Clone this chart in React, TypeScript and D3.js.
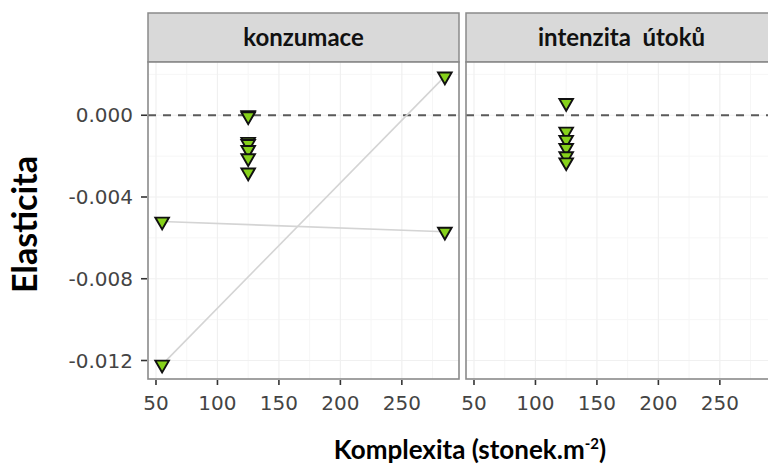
import React from "react";
import * as d3 from "d3";

// Facet titles
const facetLabels = ["konzumace", "intenzita  útoků"];

// Elasticity estimates per facet (x = complexity, y = elasticity)
const konzumaceX = [55, 125, 125, 125, 125, 125, 125, 125, 285, 55, 285];
const konzumaceY = [-0.0052, 0.0, -0.00005, -0.0013, -0.0014, -0.0017, -0.0021, -0.0028, 0.0019, -0.0122, -0.0057];
const utokyX = [125, 125, 125, 125, 125, 125];
const utokyY = [0.0006, -0.0008, -0.0012, -0.0016, -0.002, -0.0023];

// Connecting lines in the "konzumace" facet (start and end values)
const lineX = [55, 285];
const lineA = [-0.0052, -0.0057];
const lineB = [-0.0122, 0.0019];

const xTicks = [50, 100, 150, 200, 250];
const xMinor = [75, 125, 175, 225, 275];
const yTicks = [0, -0.004, -0.008, -0.012];
const yMinor = [0.002, -0.002, -0.006, -0.01];

const W = 768;
const H = 470;
const panelLeft = 148;
const panelW = 311;
const panelGap = 7;
const panelTop = 62;
const panelH = 317;
const stripTop = 13;
const stripH = panelTop - stripTop;

const borderColor = "#8a8a8a";
const tickFont = "'DejaVu Sans', 'Liberation Sans', Arial, sans-serif";
const titleFont = "Lato, 'Open Sans', 'Liberation Sans', sans-serif";

function expand(values: number[]): [number, number] {
  const [lo, hi] = d3.extent(values) as [number, number];
  const pad = (hi - lo) * 0.05;
  return [lo - pad, hi + pad];
}

const allX = [...konzumaceX, ...utokyX];
const allY = [...konzumaceY, ...utokyY];

const x = d3.scaleLinear().domain(expand(allX)).range([0, panelW]);
const y = d3.scaleLinear().domain(expand(allY)).range([panelH, 0]);

const tri = d3.symbol(d3.symbolTriangle, 80)() as string;

type Facet = { label: string; xs: number[]; ys: number[]; lines: number[][] };

const facets: Facet[] = [
  { label: facetLabels[0], xs: konzumaceX, ys: konzumaceY, lines: [lineA, lineB] },
  { label: facetLabels[1], xs: utokyX, ys: utokyY, lines: [] },
];

const line = d3
  .line<[number, number]>()
  .x((d) => x(d[0]))
  .y((d) => y(d[1]));

function Panel({ facet, left, index }: { facet: Facet; left: number; index: number }) {
  return (
    <g transform={`translate(${left},0)`}>
      {/* strip */}
      <rect x={0} y={stripTop} width={panelW} height={stripH} fill="#d9d9d9" stroke={borderColor} strokeWidth={1.5} />
      <text
        x={panelW / 2}
        y={stripTop + 33}
        textAnchor="middle"
        fontFamily={titleFont}
        fontWeight={700}
        fontSize={24}
        fill="#111"
        style={{ whiteSpace: "pre" }}
      >
        {facet.label}
      </text>
      <g transform={`translate(0,${panelTop})`}>
        <rect x={0} y={0} width={panelW} height={panelH} fill="#fff" />
        {/* grid */}
        {xMinor.map((v) => (
          <line key={`xm${v}`} x1={x(v)} x2={x(v)} y1={0} y2={panelH} stroke="#f6f6f6" strokeWidth={1} />
        ))}
        {yMinor.map((v) => (
          <line key={`ym${v}`} x1={0} x2={panelW} y1={y(v)} y2={y(v)} stroke="#f6f6f6" strokeWidth={1} />
        ))}
        {xTicks.map((v) => (
          <line key={`xg${v}`} x1={x(v)} x2={x(v)} y1={0} y2={panelH} stroke="#f0f0f0" strokeWidth={1.2} />
        ))}
        {yTicks.map((v) => (
          <line key={`yg${v}`} x1={0} x2={panelW} y1={y(v)} y2={y(v)} stroke="#f0f0f0" strokeWidth={1.2} />
        ))}
        {/* zero reference */}
        <line x1={0} x2={panelW} y1={y(0)} y2={y(0)} stroke="#5a5a5a" strokeWidth={2} strokeDasharray="8,7" />
        {/* connecting lines */}
        {facet.lines.map((vals, i) => (
          <path
            key={`l${i}`}
            d={line(lineX.map((xv, j) => [xv, vals[j]] as [number, number])) as string}
            fill="none"
            stroke="#d4d4d4"
            strokeWidth={1.6}
          />
        ))}
        {/* points */}
        {facet.xs.map((xv, i) => (
          <path
            key={`p${i}`}
            d={tri}
            transform={`translate(${x(xv)},${y(facet.ys[i])}) rotate(180)`}
            fill="#86d11b"
            stroke="#111"
            strokeWidth={1.9}
          />
        ))}
        <rect x={0} y={0} width={panelW} height={panelH} fill="none" stroke={borderColor} strokeWidth={1.6} />
        {/* x axis */}
        {xTicks.map((v) => (
          <g key={`xt${v}`} transform={`translate(${x(v)},${panelH})`}>
            <line y1={1} y2={6} stroke="#333" strokeWidth={1.6} />
            <text y={31} textAnchor="middle" fontFamily={tickFont} fontSize={20} fill="#444">
              {v}
            </text>
          </g>
        ))}
        {/* y axis */}
        {index === 0 &&
          yTicks.map((v) => (
            <g key={`yt${v}`} transform={`translate(0,${y(v)})`}>
              <line x1={-7} x2={-1} stroke="#333" strokeWidth={1.6} />
              <text x={-15} dy="0.36em" textAnchor="end" fontFamily={tickFont} fontSize={20} fill="#444">
                {v.toFixed(3)}
              </text>
            </g>
          ))}
      </g>
    </g>
  );
}

export default function App() {
  return (
    <svg
      width={W}
      height={H}
      viewBox={`0 0 ${W} ${H}`}
      style={{ position: "absolute", left: 0, top: 0, background: "#fff" }}
    >
      <rect width={W} height={H} fill="#fff" />
      {facets.map((f, i) => (
        <Panel key={f.label} facet={f} index={i} left={panelLeft + i * (panelW + panelGap)} />
      ))}
      <text
        transform={`translate(37,${panelTop + panelH / 2 + 4}) rotate(-90)`}
        textAnchor="middle"
        fontFamily={titleFont}
        fontWeight={700}
        fontSize={34}
        fill="#000"
      >
        Elasticita
      </text>
      <text x={470} y={459} textAnchor="middle" fontFamily={titleFont} fontWeight={700} fontSize={26} fill="#000">
        Komplexita (stonek.m
        <tspan dy={-10} fontSize={15}>
          -2
        </tspan>
        <tspan dy={10}>)</tspan>
      </text>
    </svg>
  );
}
